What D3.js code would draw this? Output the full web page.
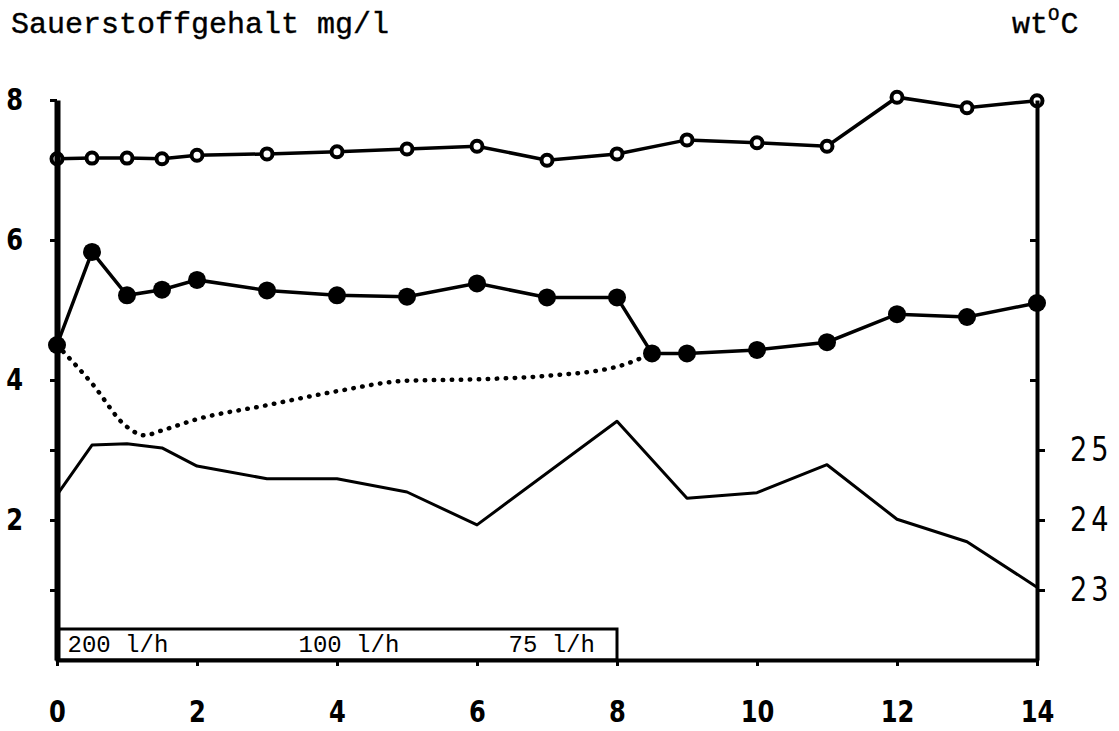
<!DOCTYPE html>
<html>
<head>
<meta charset="utf-8">
<script src="https://cdn.jsdelivr.net/npm/d3@7"></script>
<style>
    body { margin: 0; background: #fff; }
    svg { display: block; }
    .tick-label { font-family: 'DejaVu Sans'; font-weight: bold; font-size: 31px; fill: #000; }
    .temp-label { font-family: 'DejaVu Sans'; font-size: 34px; letter-spacing: 5px; fill: #000; }
    .mono { font-family: 'Liberation Mono', 'DejaVu Sans Mono', monospace; fill: #000; }
</style>
</head>
<body>
<svg id="chart" width="1119" height="731"></svg>
<script>
(function () {
    'use strict';

    // hours
    var xTicks = [0, 2, 4, 6, 8, 10, 12, 14];
    var yTicks = [1, 2, 3, 4, 6, 8];
    var yLabels = [2, 4, 6, 8];
    var tempTicks = [23, 24, 25];

    // Sauerstoff, offene Kreise
    var openTimes = [0, 0.5, 1, 1.5, 2, 3, 4, 5, 6, 7, 8, 9, 10, 11, 12, 13, 14];
    var openValues = [7.16, 7.17, 7.17, 7.16, 7.21, 7.23, 7.26, 7.3, 7.34, 7.14, 7.23, 7.43, 7.39, 7.34, 8.04, 7.89, 7.99];

    // Sauerstoff, volle Kreise
    var filledTimes = [0, 0.5, 1, 1.5, 2, 3, 4, 5, 6, 7, 8, 8.5, 9, 10, 11, 12, 13, 14];
    var filledValues = [4.5, 5.83, 5.21, 5.29, 5.43, 5.28, 5.21, 5.19, 5.38, 5.18, 5.18, 4.38, 4.38, 4.43, 4.54, 4.94, 4.9, 5.1];

    // punktierte Kurve
    var dottedTimes = [0, 0.5, 1, 1.25, 1.5, 2, 3, 4, 5, 6, 7, 8, 8.5];
    var dottedValues = [4.5, 3.95, 3.33, 3.21, 3.28, 3.44, 3.64, 3.84, 3.99, 4.01, 4.06, 4.19, 4.38];

    // Wassertemperatur
    var tempTimes = [0, 0.5, 1, 1.5, 2, 3, 4, 5, 6, 8, 9, 10, 11, 12, 13, 14];
    var tempValues = [24.36, 25.07, 25.09, 25.03, 24.77, 24.59, 24.59, 24.4, 23.93, 25.41, 24.31, 24.39, 24.79, 24.01, 23.69, 23.04];

    // Durchfluss
    var flowLabels = ['200 l/h', '100 l/h', '75 l/h'];
    var flowLabelTimes = [0.15, 3.45, 6.45];
    var flowEnd = 8;

    var svg = d3.select('#chart');

    var x = d3.scaleLinear().domain([0, 14]).range([57, 1037]);
    var y = d3.scaleLinear().domain([0, 8]).range([660, 100]);
    var yT = d3.scaleLinear().domain([22, 30]).range([660, 100]);

    function pairs(ts, vs) {
        return ts.map(function (t, i) { return [t, vs[i]]; });
    }

    var line = d3.line()
        .x(function (d) { return x(d[0]); })
        .y(function (d) { return y(d[1]); });

    var tempLine = d3.line()
        .x(function (d) { return x(d[0]); })
        .y(function (d) { return yT(d[1]); });

    var curve = d3.line()
        .curve(d3.curveMonotoneX)
        .x(function (d) { return x(d[0]); })
        .y(function (d) { return y(d[1]); });

    // title texts
    svg.append('text')
        .attr('class', 'mono')
        .attr('x', 11)
        .attr('y', 33)
        .style('font-size', '30px')
        .style('stroke', '#000')
        .style('stroke-width', 0.4)
        .text('Sauerstoffgehalt mg/l');

    var unit = svg.append('text')
        .attr('class', 'mono')
        .attr('x', 1012)
        .attr('y', 33)
        .style('font-size', '30px')
        .style('stroke', '#000')
        .style('stroke-width', 0.4);
    unit.append('tspan').text('wt');
    unit.append('tspan').attr('dy', -13).style('font-size', '19px').text('O');
    unit.append('tspan').attr('dy', 13).attr('dx', 1).text('C');

    // flow box
    svg.append('rect')
        .attr('x', x(0))
        .attr('y', 629)
        .attr('width', x(flowEnd) - x(0))
        .attr('height', 660 - 629)
        .attr('fill', 'none')
        .attr('stroke', '#000')
        .attr('stroke-width', 3);

    svg.selectAll('.flow')
        .data(flowLabels)
        .enter().append('text')
        .attr('class', 'mono flow')
        .attr('x', function (d, i) { return x(flowLabelTimes[i]); })
        .attr('y', 652)
        .style('font-size', '24px')
        .text(function (d) { return d; });

    // temperature
    svg.append('path')
        .datum(pairs(tempTimes, tempValues))
        .attr('d', tempLine)
        .attr('fill', 'none')
        .attr('stroke', '#000')
        .attr('stroke-width', 3)
        .attr('stroke-linejoin', 'round');

    // dotted
    svg.append('path')
        .datum(pairs(dottedTimes, dottedValues))
        .attr('d', curve)
        .attr('fill', 'none')
        .attr('stroke', '#000')
        .attr('stroke-width', 4.5)
        .attr('stroke-linecap', 'round')
        .attr('stroke-dasharray', '0.5,8.5');

    // filled circles series
    var filled = pairs(filledTimes, filledValues);
    svg.append('path')
        .datum(filled)
        .attr('d', line)
        .attr('fill', 'none')
        .attr('stroke', '#000')
        .attr('stroke-width', 3.5);

    svg.selectAll('.dot-filled')
        .data(filled)
        .enter().append('circle')
        .attr('class', 'dot-filled')
        .attr('cx', function (d) { return x(d[0]); })
        .attr('cy', function (d) { return y(d[1]); })
        .attr('r', 9)
        .attr('fill', '#000');

    // open circles series
    var open = pairs(openTimes, openValues);
    svg.append('path')
        .datum(open)
        .attr('d', line)
        .attr('fill', 'none')
        .attr('stroke', '#000')
        .attr('stroke-width', 3.5);

    svg.selectAll('.dot-open')
        .data(open)
        .enter().append('circle')
        .attr('class', 'dot-open')
        .attr('cx', function (d) { return x(d[0]); })
        .attr('cy', function (d) { return y(d[1]); })
        .attr('r', 5.5)
        .attr('fill', '#fff')
        .attr('stroke', '#000')
        .attr('stroke-width', 4);

    // axes
    var xAxis = svg.append('g')
        .attr('transform', 'translate(0,660)')
        .call(d3.axisBottom(x).tickValues(xTicks).tickSize(6).tickSizeOuter(0).tickPadding(34));

    var yAxis = svg.append('g')
        .attr('transform', 'translate(57,0)')
        .call(d3.axisLeft(y).tickValues(yTicks).tickSize(7).tickSizeOuter(0).tickPadding(27)
            .tickFormat(function (d) { return yLabels.indexOf(d) >= 0 ? d : ''; }));

    var rAxis = svg.append('g')
        .attr('transform', 'translate(1037,0)')
        .call(d3.axisRight(yT).tickValues(tempTicks).tickSize(8).tickSizeOuter(0).tickPadding(26));

    // inner ticks of right axis (6 and 4 mg/l)
    svg.append('g')
        .attr('transform', 'translate(1037,0)')
        .call(d3.axisLeft(y).tickValues([4, 6]).tickSize(7).tickSizeOuter(0).tickFormat(''))
        .select('.domain').remove();

    svg.selectAll('g line').attr('stroke', '#000').attr('stroke-width', 3);

    // narrow digits, like the stencil lettering
    xAxis.selectAll('text')
        .attr('class', 'tick-label')
        .attr('transform', 'scale(0.78,1)');
    yAxis.selectAll('text')
        .attr('class', 'tick-label')
        .attr('x', 0)
        .attr('transform', 'translate(-34,0) scale(0.78,1)');
    rAxis.selectAll('text')
        .attr('class', 'temp-label')
        .attr('x', 0)
        .attr('text-anchor', 'start')
        .attr('transform', 'translate(33,0) scale(0.8,1)');

    xAxis.select('.domain').attr('stroke', '#000').attr('stroke-width', 4);
    yAxis.select('.domain').attr('stroke', '#000').attr('stroke-width', 6);
    rAxis.select('.domain').attr('stroke', '#000').attr('stroke-width', 4);

}());
</script>
</body>
</html>
